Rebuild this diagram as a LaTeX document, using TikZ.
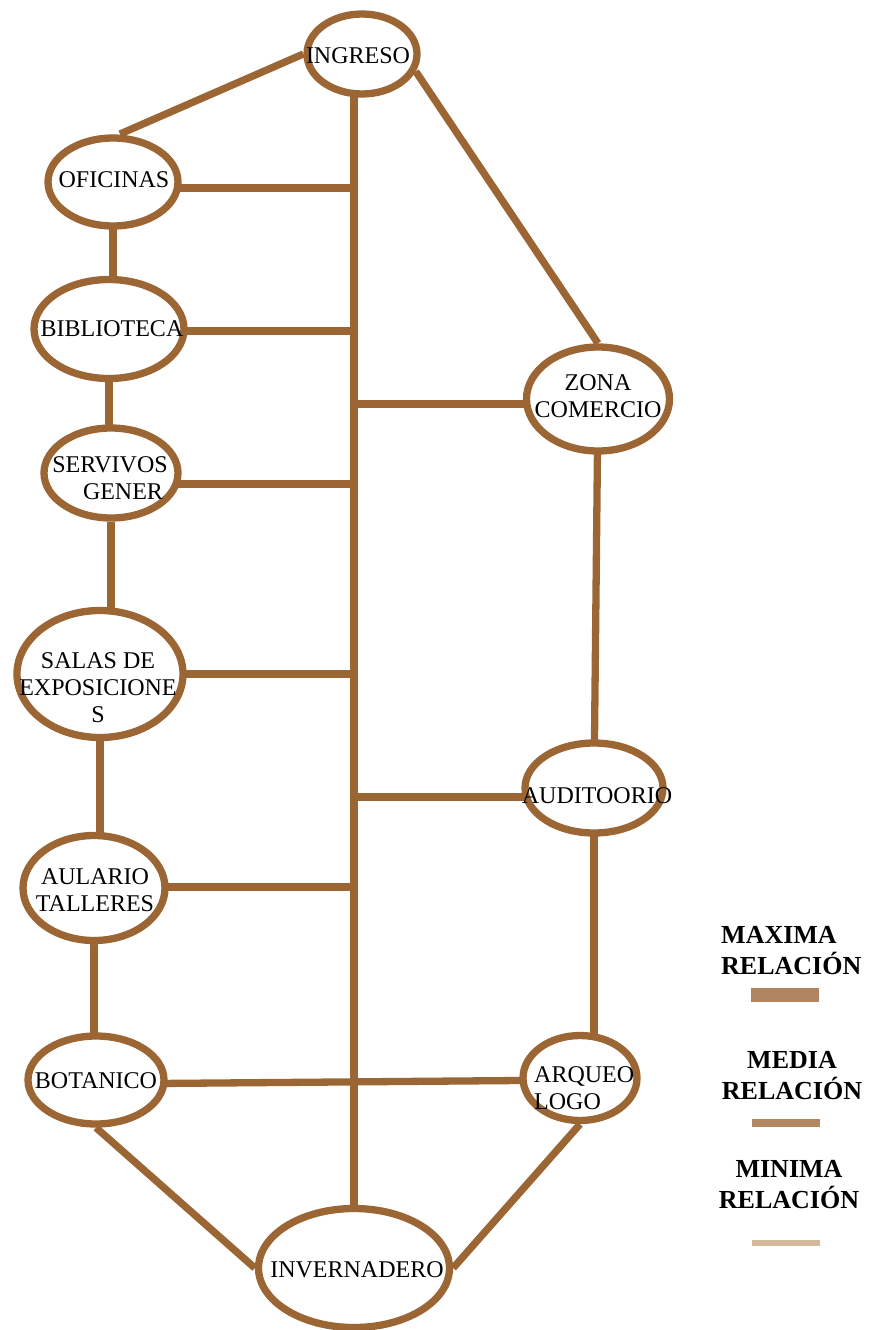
\documentclass[tikz,border=0pt]{standalone}
\usepackage{fontspec}
\setmainfont{Liberation Serif}
\usetikzlibrary{shapes.geometric,backgrounds}
\definecolor{brn}{RGB}{155,102,52}
\definecolor{legA}{RGB}{176,134,96}
\definecolor{legB}{RGB}{178,136,98}
\definecolor{legC}{RGB}{212,184,155}
\begin{document}
\begin{tikzpicture}[x=1pt,y=-1pt,
  room/.style={ellipse, draw=brn, line width=7.3pt, fill=white, inner sep=0pt},
  link/.style={draw=brn, line width=7.3pt},
  rtext/.style={font=\fontsize{24}{27}\selectfont, align=center, inner sep=0pt},
  legtext/.style={font=\bfseries\fontsize{26}{31}\selectfont, align=center, inner sep=0pt},
  legbar/.style={rectangle, draw=none, inner sep=0pt, minimum width=68pt}]
\useasboundingbox (0,0) rectangle (873,1330);

% rooms
\node[room, minimum width=110pt, minimum height=80pt] (ing) at (362,54) {};
\node[room, minimum width=130pt, minimum height=88pt] (ofi) at (113,182) {};
\node[room, minimum width=150pt, minimum height=99pt] (bib) at (109,329) {};
\node[room, minimum width=134pt, minimum height=90pt] (serv) at (111,473) {};
\node[room, minimum width=166pt, minimum height=127pt] (salas) at (100,674) {};
\node[room, minimum width=142pt, minimum height=105pt] (aul) at (94,888) {};
\node[room, minimum width=136pt, minimum height=88pt] (bot) at (96,1080) {};
\node[room, minimum width=191pt, minimum height=119pt] (inv) at (354,1268) {};
\node[room, minimum width=143pt, minimum height=104pt] (zona) at (598,399) {};
\node[room, minimum width=138pt, minimum height=90pt] (aud) at (594,788) {};
\node[room, minimum width=114pt, minimum height=85pt] (arq) at (580,1078) {};

% labels
\node[rtext] (tIng) at (358,56) {INGRESO};
\node[rtext] (tOfi) at (114,180) {OFICINAS};
\node[rtext] (tBib) at (112,329) {BIBLIOTECA};
\node[rtext] (tServ) at (110,478) {SERVIVOS\\\hspace*{26pt}GENER};
\node[rtext] (tSalas) at (98,688) {SALAS DE\\EXPOSICIONE\\S};
\node[rtext] (tAul) at (95,890) {AULARIO\\TALLERES};
\node[rtext] (tBot) at (96,1081) {BOTANICO};
\node[rtext] (tInv) at (357,1270) {INVERNADERO};
\node[rtext] (tZona) at (598,396) {ZONA\\COMERCIO};
\node[rtext] (tAud) at (597,796) {AUDITOORIO};
\node[rtext, align=left, anchor=west] (tArq) at (534,1088) {ARQUEO\\LOGO};

% spine coordinates
\coordinate (sp) at (354,0);
\coordinate (c1) at (352,188);
\coordinate (c2) at (352,331);
\coordinate (c3) at (355,404);
\coordinate (c4) at (352,484);
\coordinate (c5) at (352,674);
\coordinate (c6) at (355,797);
\coordinate (c7) at (358,887);
\coordinate (oTop) at (120,134);

\begin{scope}[on background layer]
  \draw[link] (ing.center -| sp) -- (inv.center -| sp);
  \draw[link] (ing.west) -- (oTop);
  \draw[link] (ing.-18) -- (zona.north);
  \draw[link] (ofi.center |- c1) -- (c1);
  \draw[link] (bib.center |- c2) -- (c2);
  \draw[link] (c3) -- (zona.center |- c3);
  \draw[link] (serv.center |- c4) -- (c4);
  \draw[link] (salas.center |- c5) -- (c5);
  \draw[link] (c6) -- (aud.center |- c6);
  \draw[link] (aul.center |- c7) -- (c7);
  \draw[link] (ofi.center) -- (ofi.center |- bib.center);
  \draw[link] (bib.south) -- (bib.south |- serv.center);
  \draw[link] (serv.south) -- (serv.south |- salas.center);
  \draw[link] (salas.south) -- (salas.south |- aul.center);
  \draw[link] (aul.south) -- (aul.south |- bot.center);
  \draw[link] (zona.center) -- (aud.center);
  \draw[link] (aud.center) -- (aud.center |- arq.center);
  \draw[link] ([yshift=-4pt]bot.center) -- ([yshift=-2pt]arq.center);
  \draw[link] (bot.south) -- (inv.west);
  \draw[link] (arq.south) -- (inv.east);
\end{scope}

% legend
\node[legtext, align=left, anchor=north west] (lMax) at (721,926) {MAXIMA\\RELACIÓN};
\node[legbar, fill=legA, minimum height=14pt] (bMax) at (785,995) {};
\node[legtext] (lMed) at (792,1076) {MEDIA\\RELACIÓN};
\node[legbar, fill=legB, minimum height=8pt] (bMed) at (786,1123) {};
\node[legtext] (lMin) at (789,1185) {MINIMA\\RELACIÓN};
\node[legbar, fill=legC, minimum height=6pt] (bMin) at (786,1243) {};
\end{tikzpicture}
\end{document}
